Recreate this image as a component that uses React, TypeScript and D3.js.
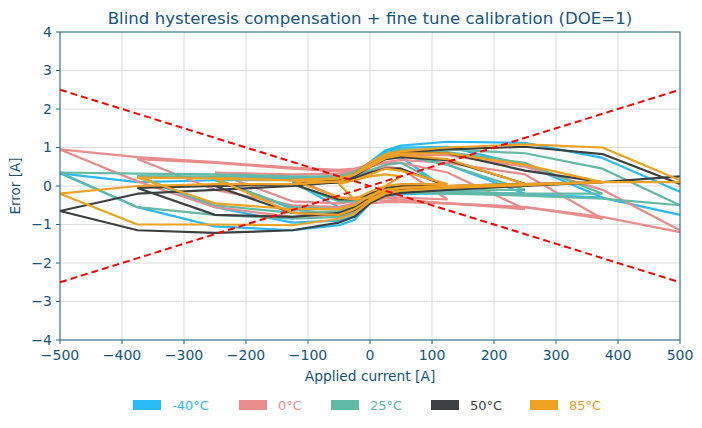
import React from 'react';
import * as d3 from 'd3';

// applied current grid used by every loop (a loop of amplitude A uses |x| <= A)
const currents = [-500, -375, -250, -125, -50, -25, 0, 25, 50, 125, 250, 375, 500];

interface Loop {
  amp: number,
  down: number[], // branch coming down from +amp (upper)
  up: number[],   // branch going up from -amp (lower)
}

const blueLoops: Loop[] = [
  { amp: 500, down: [0.33, 0.1, 0.15, 0.18, 0.22, 0.32, 0.62, 0.93, 1.05, 1.15, 1.12, 0.73, -0.15], up: [0.33, -0.55, -1.05, -1.15, -1.02, -0.88, -0.45, -0.28, -0.22, -0.18, -0.22, -0.31, -0.75] },
  { amp: 375, down: [0.25, 0.22, 0.2, 0.25, 0.32, 0.6, 0.9, 1.0, 1.02, 0.55, -0.3], up: [0.25, -0.55, -0.95, -0.9, -0.78, -0.4, -0.25, -0.2, -0.18, -0.22, -0.3] },
  { amp: 250, down: [0.2, 0.15, 0.2, 0.3, 0.55, 0.85, 0.92, 0.55, -0.2], up: [0.2, -0.6, -0.75, -0.65, -0.35, -0.2, -0.15, -0.15, -0.2] },
  { amp: 125, down: [0.1, 0.15, 0.25, 0.5, 0.7, 0.75, -0.1], up: [0.1, -0.55, -0.5, -0.3, -0.15, -0.1, -0.1] },
];

const salmonLoops: Loop[] = [
  { amp: 500, down: [0.95, 0.75, 0.62, 0.48, 0.42, 0.45, 0.55, 0.7, 0.8, 0.8, 0.5, -0.1, -1.15], up: [0.95, 0.12, -0.55, -0.8, -0.75, -0.65, -0.45, -0.42, -0.42, -0.45, -0.55, -0.8, -1.2] },
  { amp: 375, down: [0.7, 0.6, 0.45, 0.38, 0.4, 0.5, 0.62, 0.68, 0.6, 0.3, -0.85], up: [0.7, -0.1, -0.5, -0.55, -0.45, -0.35, -0.38, -0.4, -0.45, -0.55, -0.85] },
  { amp: 250, down: [0.35, 0.3, 0.32, 0.38, 0.5, 0.6, 0.6, 0.35, -0.6], up: [0.35, -0.4, -0.45, -0.4, -0.3, -0.32, -0.35, -0.45, -0.6] },
  { amp: 125, down: [0.2, 0.25, 0.3, 0.42, 0.5, 0.45, -0.35], up: [0.2, -0.3, -0.3, -0.25, -0.28, -0.3, -0.35] },
];

const tealLoops: Loop[] = [
  { amp: 500, down: [0.35, 0.32, 0.3, 0.25, 0.25, 0.35, 0.6, 0.85, 0.95, 0.95, 0.85, 0.45, -0.5], up: [0.35, -0.55, -0.75, -0.85, -0.8, -0.7, -0.35, -0.2, -0.18, -0.2, -0.25, -0.33, -0.5] },
  { amp: 375, down: [0.25, 0.25, 0.22, 0.25, 0.35, 0.6, 0.82, 0.9, 0.88, 0.6, -0.2], up: [0.25, -0.5, -0.7, -0.65, -0.55, -0.3, -0.2, -0.15, -0.15, -0.2, -0.2] },
  { amp: 250, down: [0.15, 0.15, 0.25, 0.35, 0.55, 0.75, 0.8, 0.55, -0.1], up: [0.15, -0.55, -0.6, -0.5, -0.3, -0.15, -0.12, -0.12, -0.1] },
  { amp: 125, down: [0.05, 0.1, 0.2, 0.4, 0.55, 0.6, -0.05], up: [0.05, -0.4, -0.4, -0.25, -0.1, -0.05, -0.05] },
];

const darkLoops: Loop[] = [
  { amp: 500, down: [-0.65, -0.2, -0.1, 0.0, 0.1, 0.3, 0.6, 0.8, 0.88, 0.95, 1.02, 0.83, 0.05], up: [-0.65, -1.15, -1.22, -1.15, -0.95, -0.8, -0.45, -0.25, -0.18, -0.1, 0.0, 0.1, 0.25] },
  { amp: 375, down: [-0.05, 0.0, 0.05, 0.15, 0.3, 0.6, 0.8, 0.88, 0.85, 0.4, 0.1], up: [-0.05, -0.75, -0.8, -0.7, -0.55, -0.3, -0.15, -0.08, -0.05, 0.05, 0.1] },
  { amp: 250, down: [0.0, 0.05, 0.1, 0.25, 0.5, 0.7, 0.75, 0.67, 0.06], up: [0.0, -0.7, -0.75, -0.62, -0.35, -0.15, -0.05, 0.0, 0.06] },
  { amp: 125, down: [0.05, 0.1, 0.2, 0.35, 0.45, 0.45, 0.0], up: [0.05, -0.35, -0.35, -0.2, -0.05, 0.0, 0.0] },
];

const orangeLoops: Loop[] = [
  { amp: 500, down: [-0.2, 0.0, 0.05, 0.05, 0.12, 0.3, 0.62, 0.82, 0.9, 1.0, 1.08, 1.0, 0.15], up: [-0.2, -1.0, -1.0, -1.02, -0.85, -0.72, -0.4, -0.2, -0.12, -0.05, 0.02, 0.1, 0.1] },
  { amp: 375, down: [0.22, 0.2, 0.15, 0.2, 0.3, 0.55, 0.78, 0.85, 0.85, 0.55, 0.1], up: [0.22, -0.45, -0.6, -0.6, -0.5, -0.25, -0.1, -0.05, 0.0, 0.05, 0.1] },
  { amp: 250, down: [0.2, 0.15, 0.2, 0.3, 0.5, 0.72, 0.8, 0.7, 0.05], up: [0.2, -0.7, -0.75, -0.6, -0.35, -0.15, -0.05, 0.0, 0.05] },
  { amp: 125, down: [0.15, 0.1, 0.15, 0.3, 0.45, 0.4, 0.05], up: [0.15, -0.3, -0.35, -0.15, 0.0, 0.05, 0.05] },
  { amp: 50, down: [0.05, 0.15, 0.25, 0.3, 0.25], up: [0.05, -0.35, -0.3, 0.0, 0.25] },
];

const series = [
  { name: '-40°C', color: '#29bbf7', text: '#29bbf7', loops: blueLoops },
  { name: '0°C', color: '#e88c8c', text: '#e88c8c', loops: salmonLoops },
  { name: '25°C', color: '#62b9a6', text: '#62b9a6', loops: tealLoops },
  { name: '50°C', color: '#3c4040', text: '#3c4040', loops: darkLoops },
  { name: '85°C', color: '#f0a122', text: '#f0a122', loops: orangeLoops },
];

// ±0.5% error envelope
const limitX = [-500, 500];
const limitUpper = [2.5, -2.5];
const limitLower = [-2.5, 2.5];

const xTicks = d3.range(-500, 501, 100);
const yTicks = d3.range(-4, 5, 1);

const W = 702;
const H = 428;
const margin = { top: 32, right: 22, bottom: 88, left: 60 };
const axisColor = '#1f6a80';
const textColor = '#17567a';
const font = 'DejaVu Sans, sans-serif';

const App: React.FC = () => {
  const x = d3.scaleLinear().domain([-500, 500]).range([margin.left, W - margin.right]);
  const y = d3.scaleLinear().domain([-4, 4]).range([H - margin.bottom, margin.top]);

  const line = d3.line<[number, number]>()
    .x((d) => x(d[0]))
    .y((d) => y(d[1]));

  const branch = (amp: number, vals: number[]) => {
    const xs = currents.filter((c) => Math.abs(c) <= amp);
    return line(xs.map((c, i) => [c, vals[i]]))!;
  };

  const legendX = [133, 239, 331, 431, 530];

  return (
    <svg width={W} height={H} style={{ position: 'absolute', left: 0, top: 0, fontFamily: font }}>
      <rect width={W} height={H} fill="#fff" />
      <text x={(x(-500) + x(500)) / 2} y={24} textAnchor="middle" fontSize={16.6} fill={textColor}>
        Blind hysteresis compensation + fine tune calibration (DOE=1)
      </text>

      {xTicks.map((t) => (
        <line key={`gx${t}`} x1={x(t)} x2={x(t)} y1={y(-4)} y2={y(4)} stroke="#dcdcdc" strokeWidth={1} />
      ))}
      {yTicks.map((t) => (
        <line key={`gy${t}`} x1={x(-500)} x2={x(500)} y1={y(t)} y2={y(t)} stroke="#dcdcdc" strokeWidth={1} />
      ))}

      <g fill="none" strokeWidth={2.2} strokeLinejoin="round">
        {series.map((s) => s.loops.map((l, i) => (
          <g key={`${s.name}${i}`} stroke={s.color}>
            <path d={branch(l.amp, l.down)} />
            <path d={branch(l.amp, l.up)} />
          </g>
        )))}
      </g>

      <g stroke="#ff0000" strokeWidth={2} strokeDasharray="7,4" fill="none">
        <path d={line(limitX.map((v, i) => [v, limitUpper[i]]))!} />
        <path d={line(limitX.map((v, i) => [v, limitLower[i]]))!} />
      </g>

      <rect x={x(-500)} y={y(4)} width={x(500) - x(-500)} height={y(-4) - y(4)} fill="none" stroke={axisColor} strokeWidth={1} />

      {xTicks.map((t) => (
        <g key={`xt${t}`}>
          <line x1={x(t)} x2={x(t)} y1={y(-4)} y2={y(-4) + 4} stroke={axisColor} />
          <text x={x(t)} y={y(-4) + 19.5} textAnchor="middle" fontSize={14} fill={textColor}>
            {t < 0 ? `\u2212${-t}` : t}
          </text>
        </g>
      ))}
      {yTicks.map((t) => (
        <g key={`yt${t}`}>
          <line x1={x(-500) - 4} x2={x(-500)} y1={y(t)} y2={y(t)} stroke={axisColor} />
          <text x={x(-500) - 8} y={y(t) + 4.5} textAnchor="end" fontSize={14} fill={textColor}>
            {t < 0 ? `\u2212${-t}` : t}
          </text>
        </g>
      ))}

      <text x={(x(-500) + x(500)) / 2} y={381} textAnchor="middle" fontSize={13.8} fill={textColor}>
        Applied current [A]
      </text>
      <text transform={`translate(20, ${(y(4) + y(-4)) / 2}) rotate(-90)`} textAnchor="middle" fontSize={13.5} fill={textColor}>
        Error [A]
      </text>

      {series.map((s, i) => (
        <g key={`lg${s.name}`} transform={`translate(${legendX[i]}, 400)`}>
          <rect x={0} y={0} width={28} height={10} fill={s.color} />
          <text x={39} y={10} fontSize={13} fill={s.text}>{s.name}</text>
        </g>
      ))}
    </svg>
  );
};

export default App;
